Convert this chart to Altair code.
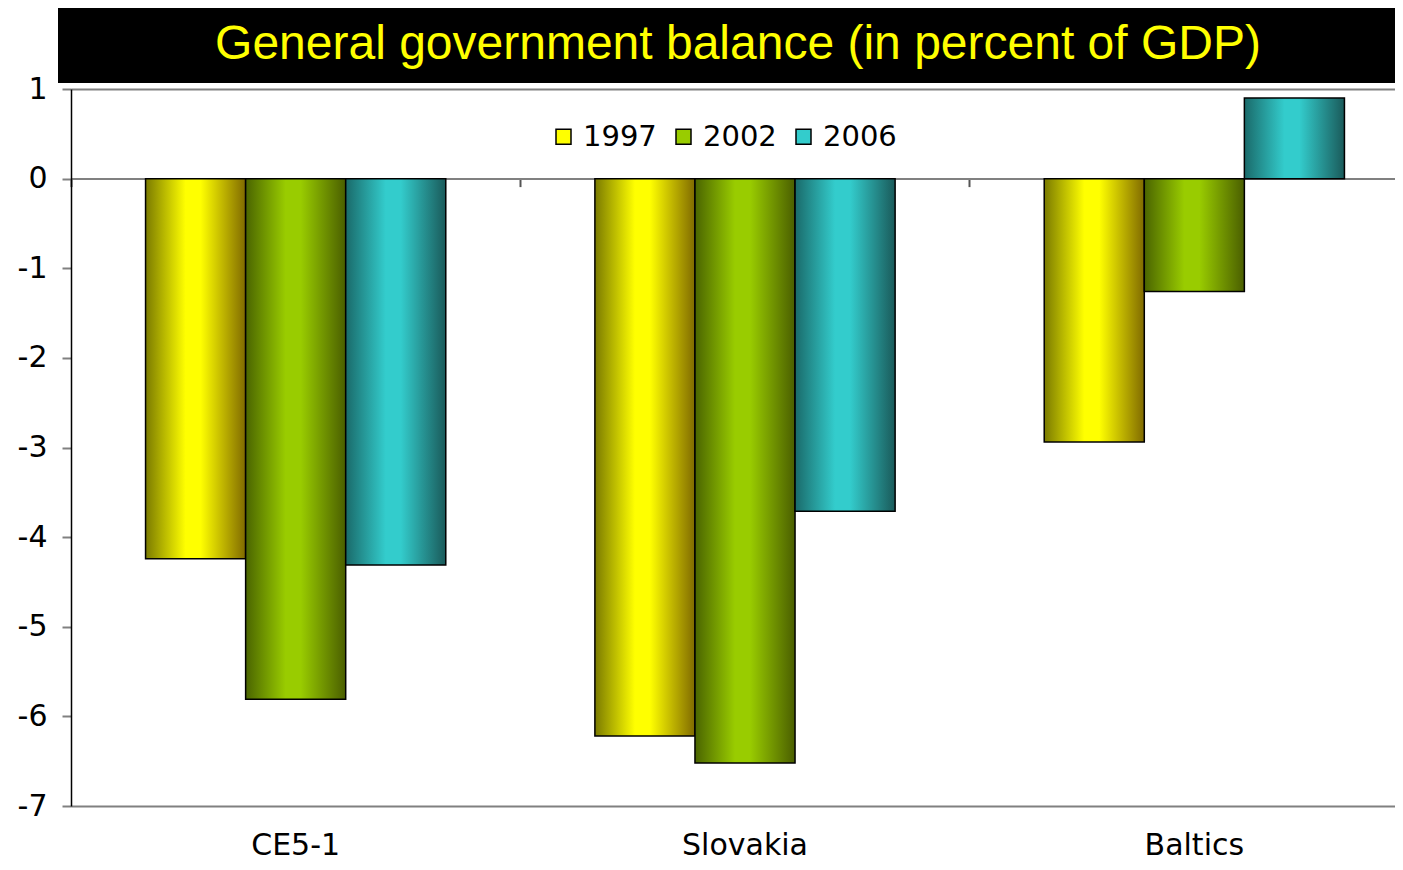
import altair as alt
import pandas as pd

# ---- data ----
title_text = "General government balance (in percent of GDP)"
regions = ["CE5-1", "Slovakia", "Baltics"]
years = ["1997", "2002", "2006"]
v1997 = [-4.24, -6.22, -2.94]
v2002 = [-5.81, -6.52, -1.26]
v2006 = [-4.31, -3.71, 0.90]
y_ticks = [1, 0, -1, -2, -3, -4, -5, -6, -7]

solid_colors = ["#ffff00", "#99cc00", "#33cccc"]

rows = []
for i, r in enumerate(regions):
    for yr, vals in zip(years, [v1997, v2002, v2006]):
        rows.append({"region": r, "year": yr, "value": vals[i]})
df = pd.DataFrame(rows)

W, H = 1324, 717
XR = 1348  # full category range (reference plot runs past the picture edge)
FONT = "DejaVu Sans"


def grad(dark_l, bright, dark_r):
    return {
        "gradient": "linear",
        "x1": 0, "y1": 0, "x2": 1, "y2": 0,
        "stops": [
            {"offset": 0.0, "color": dark_l},
            {"offset": 0.4, "color": bright},
            {"offset": 0.55, "color": bright},
            {"offset": 1.0, "color": dark_r},
        ],
    }


g1997 = grad("#7a7a00", "#ffff00", "#806a00")
g2002 = grad("#4a6400", "#99cc00", "#4a5e00")
g2006 = grad("#1a6a6a", "#33cccc", "#1a5a5a")

x_enc = alt.X(
    "region:N", sort=regions,
    scale=alt.Scale(paddingInner=0, paddingOuter=0, range=[0, XR]),
    axis=alt.Axis(
        title=None, orient="bottom", offset=-627.4,
        domainColor="#808080", domainWidth=2,
        tickColor="#555555", tickSize=8, tickWidth=2, bandPosition=0,
        labelPadding=644, labelFontSize=30, labelFont=FONT,
        labelColor="black", labelAngle=0, zindex=0,
    ),
)
xoff_enc = alt.XOffset(
    "year:N", sort=years,
    scale=alt.Scale(paddingInner=0, paddingOuter=0.745),
)
y_enc = alt.Y(
    "value:Q",
    scale=alt.Scale(domain=[-7, 1], nice=False, zero=False),
    axis=alt.Axis(
        title=None, values=y_ticks, grid=True,
        gridColor={
            "condition": {"test": "datum.value == 1 || datum.value == -7",
                          "value": "#808080"},
            "value": "transparent",
        },
        gridWidth=2,
        tickSize=9, tickColor="#808080", tickWidth=2,
        domainColor="black", domainWidth=1.5,
        labelFontSize=30, labelFont=FONT, labelColor="black",
        labelExpr="'' + datum.value",
        labelPadding=15, zindex=1,
    ),
)

base = alt.Chart(df)

solid = base.mark_bar().encode(
    x=x_enc, xOffset=xoff_enc, y=y_enc, y2=alt.datum(0),
    color=alt.Color(
        "year:N", sort=years,
        scale=alt.Scale(domain=years, range=solid_colors),
        legend=alt.Legend(
            orient="none", legendX=478, legendY=33, direction="horizontal",
            title=None, labelFontSize=29, labelFont=FONT, labelColor="black",
            symbolType="square", symbolSize=225, symbolStrokeColor="black",
            symbolStrokeWidth=1.5, labelOffset=5, columnPadding=12, padding=0,
        ),
    ),
)

gradient_bars = base.mark_bar(stroke="black", strokeWidth=1.5).encode(
    x=x_enc, xOffset=xoff_enc, y=y_enc, y2=alt.datum(0),
    color=alt.when(alt.datum.year == "1997").then(alt.value(g1997))
    .when(alt.datum.year == "2002").then(alt.value(g2002))
    .otherwise(alt.value(g2006)),
)

tdf = pd.DataFrame({"t": [title_text]})
title_box = alt.Chart(tdf).mark_rect(color="black").encode(
    x=alt.value(-13), x2=alt.value(XR), y=alt.value(-81), y2=alt.value(-6)
)
title = alt.Chart(tdf).mark_text(
    font="Liberation Sans", fontSize=48, color="#ffff00",
    align="center", baseline="alphabetic",
).encode(x=alt.value(667), y=alt.value(-30), text="t:N")

chart = alt.layer(title_box, title, solid, gradient_bars).properties(
    width=W, height=H,
    autosize=alt.AutoSizeParams(type="none"),
    padding={"left": 63, "top": 81, "right": 0, "bottom": 56},
).configure_view(stroke=None).configure(background="white")

chart.save("out.html", embed_options={"renderer": "svg", "actions": False})
